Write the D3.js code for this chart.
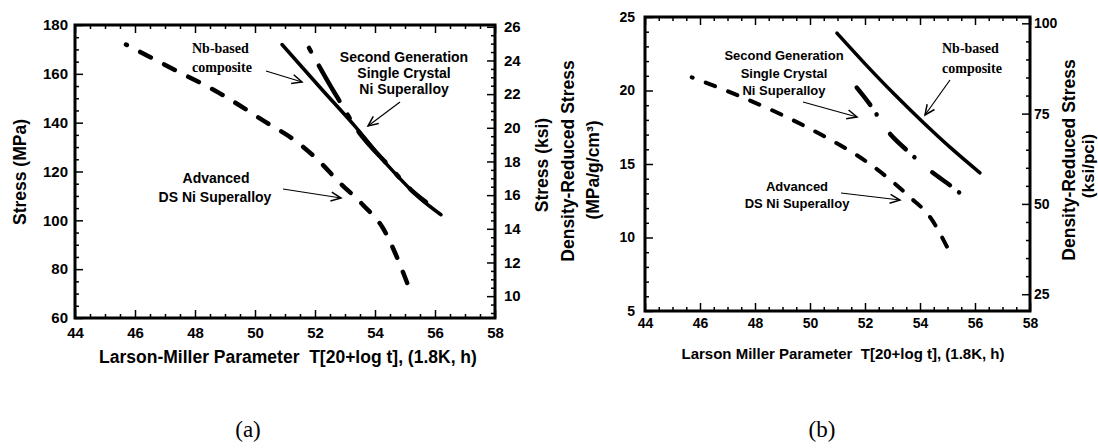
<!DOCTYPE html>
<html><head><meta charset="utf-8">
<script src="https://cdn.jsdelivr.net/npm/d3@7"></script>
<style>
body{margin:0;background:#fff}
svg text{font-family:"Liberation Sans",Arial,Helvetica,sans-serif;font-weight:bold;fill:#000}
</style>
</head><body>
<svg id="chart" width="1098" height="448"></svg>
<script>
// ---------------- data ----------------
const lmpTicks = [44, 46, 48, 50, 52, 54, 56, 58];
const stressTicksMPa = [60, 80, 100, 120, 140, 160, 180];
const stressTicksKsi = [10, 12, 14, 16, 18, 20, 22, 24, 26];
const drTicksMetric = [5, 10, 15, 20, 25];
const drTicksKsiPci = [25, 50, 75, 100];

// panel (a): Larson-Miller parameter vs stress (MPa)
const aDS_lmp     = [45.7, 47.2, 48.8, 50.4, 51.3, 52.1, 52.8, 53.6, 54.3, 54.7, 55.1];
const aDS_stress  = [172, 162.4, 152.2, 139.9, 133, 124.7, 115.7, 106.3, 96.1, 85.8, 73.5];
const aNb_lmp     = [50.9, 52.2, 53.3, 54.5, 55.5, 56.2];
const aNb_stress  = [172, 154, 139, 121.5, 109, 102.3];
const aSC_lmp     = [51.8, 52.5, 52.9, 53.3, 54.5, 55.2, 55.7];
const aSC_stress  = [170.6, 155.4, 147.2, 139, 121.8, 112.5, 107.5];

// panel (b): Larson-Miller parameter vs density-reduced stress (MPa/g/cm3)
const bDS_lmp     = [45.7, 47.2, 48.8, 50.4, 52.1, 53.6, 54.4, 55.0];
const bDS_dr      = [20.9, 19.8, 18.5, 17.0, 15.1, 12.8, 11.3, 9.3];
const bNb_lmp     = [50.98, 52.02, 53.06, 54.1, 55.14, 56.18];
const bNb_dr      = [23.9, 21.78, 19.76, 17.86, 16.06, 14.4];
const bSC_lmp     = [51.7, 52.2, 52.8, 53.6, 54.4, 55.2, 55.6];
const bSC_dr      = [20.2, 19.0, 17.3, 15.8, 14.5, 13.4, 12.8];

const MPA_PER_KSI = 6.895;
const KSIPCI_PER_METRIC = 4.07;

// ---------------- drawing ----------------
const svg = d3.select("#chart");
svg.append("rect").attr("width", 1098).attr("height", 448).attr("fill", "#fff");

const defs = svg.append("defs");
defs.append("marker").attr("id", "arr").attr("markerUnits", "userSpaceOnUse")
  .attr("viewBox", "-12 -7 14 14").attr("markerWidth", 14).attr("markerHeight", 14)
  .attr("refX", 0).attr("refY", 0).attr("orient", "auto")
  .append("path").attr("d", "M-10,-4.5 L0,0 L-10,4.5")
  .attr("fill", "none").attr("stroke", "#000").attr("stroke-width", 1.5);

function zip(a, b) { return a.map((v, i) => [v, b[i]]); }

function styleAxis(sel, fs) {
  sel.select(".domain").remove();
  sel.selectAll(".tick line").attr("stroke", "#000").attr("stroke-width", 1.5);
  sel.selectAll("text").attr("font-size", fs).attr("font-family", null);
  sel.attr("font-family", null).attr("font-size", null);
}

function panel(cfg) {
  const g = svg.append("g");
  const x = d3.scaleLinear().domain([44, 58]).range([cfg.x0, cfg.x1]);
  const y = d3.scaleLinear().domain(cfg.yDomain).range([cfg.y0, cfg.y1]);
  const yR = d3.scaleLinear().domain(cfg.yDomain.map(cfg.conv)).range([cfg.y0, cfg.y1]);

  const minorX = d3.range(44, 58.001, 0.5).filter(v => lmpTicks.indexOf(v) < 0);
  g.append("g").attr("transform", `translate(0,${cfg.y0})`)
    .call(d3.axisBottom(x).tickValues(lmpTicks).tickSizeInner(-8).tickSizeOuter(0).tickPadding(cfg.xPad))
    .call(s => styleAxis(s, cfg.tickFs));
  g.append("g").attr("transform", `translate(0,${cfg.y0})`)
    .call(d3.axisBottom(x).tickValues(minorX).tickSizeInner(-4).tickSizeOuter(0).tickFormat(""))
    .call(s => styleAxis(s, cfg.tickFs));
  g.append("g").attr("transform", `translate(0,${cfg.y1})`)
    .call(d3.axisTop(x).tickValues(lmpTicks).tickSizeInner(-8).tickSizeOuter(0).tickFormat(""))
    .call(s => styleAxis(s, cfg.tickFs));
  g.append("g").attr("transform", `translate(0,${cfg.y1})`)
    .call(d3.axisTop(x).tickValues(minorX).tickSizeInner(-4).tickSizeOuter(0).tickFormat(""))
    .call(s => styleAxis(s, cfg.tickFs));
  g.append("g").attr("transform", `translate(${cfg.x0},0)`)
    .call(d3.axisLeft(y).tickValues(cfg.yTicks).tickSizeInner(-8).tickSizeOuter(0).tickPadding(cfg.yPad))
    .call(s => styleAxis(s, cfg.tickFs));
  g.append("g").attr("transform", `translate(${cfg.x0},0)`)
    .call(d3.axisLeft(y).tickValues(cfg.yMinor).tickSizeInner(-4).tickSizeOuter(0).tickFormat(""))
    .call(s => styleAxis(s, cfg.tickFs));
  g.append("g").attr("transform", `translate(${cfg.x1},0)`)
    .call(d3.axisRight(yR).tickValues(cfg.rTicks).tickSizeInner(-8).tickSizeOuter(0).tickPadding(cfg.rPad))
    .call(s => styleAxis(s, cfg.tickFs));
  g.append("g").attr("transform", `translate(${cfg.x1},0)`)
    .call(d3.axisRight(yR).tickValues(cfg.rMinor).tickSizeInner(-4).tickSizeOuter(0).tickFormat(""))
    .call(s => styleAxis(s, cfg.tickFs));

  g.append("rect").attr("x", cfg.x0).attr("y", cfg.y1)
    .attr("width", cfg.x1 - cfg.x0).attr("height", cfg.y0 - cfg.y1)
    .attr("fill", "none").attr("stroke", "#000").attr("stroke-width", 3);

  const line = d3.line().x(d => x(d[0])).y(d => y(d[1])).curve(d3.curveMonotoneX);
  cfg.series.forEach(s => {
    g.append("path").attr("d", line(s.data)).attr("fill", "none")
      .attr("stroke", "#000").attr("stroke-width", s.w)
      .attr("stroke-linecap", "round")
      .attr("stroke-dasharray", s.dash || null)
      .attr("stroke-dashoffset", s.offset || 0);
  });
  return g;
}

function txt(x, y, s, fs, opts = {}) {
  const t = svg.append("text").attr("x", x).attr("y", y).text(s)
    .attr("font-size", fs).attr("text-anchor", opts.anchor || "middle")
    .attr("dominant-baseline", "central");
  if (opts.rot) t.attr("transform", `rotate(-90,${x},${y})`);
  if (opts.serif) t.style("font-family", '"Liberation Serif","Times New Roman",serif').attr("fill", opts.color || "#000");
  if (opts.normal) t.style("font-weight", "normal");
  if (opts.pre) t.style("white-space", "pre");
  return t;
}
function arrow(x1, y1, x2, y2) {
  svg.append("line").attr("x1", x1).attr("y1", y1).attr("x2", x2).attr("y2", y2)
    .attr("stroke", "#000").attr("stroke-width", 1.2).attr("marker-end", "url(#arr)");
}

// panel (a)
panel({
  x0: 75, x1: 495, y0: 318, y1: 25,
  yDomain: [60, 180], conv: v => v / MPA_PER_KSI,
  yTicks: stressTicksMPa, yMinor: d3.range(60, 180, 5).filter(v => v % 20 !== 0),
  rTicks: stressTicksKsi, rMinor: d3.range(9, 26.01, 0.5).filter(v => v % 2 !== 0),
  tickFs: 15, xPad: 9, yPad: 7, rPad: 9,
  series: [
    { data: zip(aDS_lmp, aDS_stress), w: 4.5, dash: "12,15", offset: 11 },
    { data: zip(aNb_lmp, aNb_stress), w: 3.5 },
    { data: zip(aSC_lmp, aSC_stress), w: 4.5, dash: "4,16,41,16" }
  ]
});

// panel (b)
panel({
  x0: 645, x1: 1030, y0: 311, y1: 17,
  yDomain: [5, 25], conv: v => v * KSIPCI_PER_METRIC,
  yTicks: drTicksMetric, yMinor: d3.range(6, 25, 1).filter(v => v % 5 !== 0),
  rTicks: drTicksKsiPci, rMinor: d3.range(25, 101, 5).filter(v => v % 25 !== 0),
  tickFs: 14, xPad: 7, yPad: 10, rPad: 4,
  series: [
    { data: zip(bDS_lmp, bDS_dr), w: 4, dash: "10,14", offset: 9 },
    { data: zip(bNb_lmp, bNb_dr), w: 3.5 },
    { data: zip(bSC_lmp, bSC_dr), w: 4.5, dash: "22,11.5,0.1,23.5" }
  ]
});

// axis titles (a)
txt(20, 172, "Stress (MPa)", 17.5, { rot: true });
txt(542, 165, "Stress (ksi)", 17.5, { rot: true });
txt(288, 357, "Larson-Miller Parameter  T[20+log t], (1.8K, h)", 17.5, { pre: true });

// axis titles (b)
txt(568, 161, "Density-Reduced Stress", 17.5, { rot: true });
txt(593, 170, "(MPa/g/cm³)", 17.5, { rot: true });
txt(1069, 160, "Density-Reduced Stress", 17.5, { rot: true });
txt(1088, 166, "(ksi/pci)", 17, { rot: true });
txt(843, 353, "Larson Miller Parameter  T[20+log t], (1.8K, h)", 15, { pre: true });

// annotations (a)
const navy = "#1c2452";
txt(192, 48, "Nb-based", 14, { anchor: "start", serif: true, color: navy });
txt(192, 67, "composite", 14, { anchor: "start", serif: true, color: navy });
arrow(266, 71, 302, 82);
txt(404, 57, "Second Generation", 14);
txt(404, 73, "Single Crystal", 14);
txt(404, 89, "Ni Superalloy", 14);
arrow(400, 102, 368, 126);
txt(216, 178, "Advanced", 14);
txt(215, 197, "DS Ni Superalloy", 14);
arrow(283, 189, 341, 198);

// annotations (b)
txt(784, 55, "Second Generation", 13);
txt(784, 73, "Single Crystal", 13);
txt(784, 90, "Ni Superalloy", 13);
arrow(803, 102, 857, 117);
txt(797, 186, "Advanced", 13);
txt(797, 203, "DS Ni Superalloy", 13);
arrow(841, 193, 900, 200);
txt(942, 48, "Nb-based", 14, { anchor: "start", serif: true, color: navy });
txt(942, 68, "composite", 14, { anchor: "start", serif: true, color: navy });
arrow(950, 80, 925, 115);

// panel captions
txt(248, 429, "(a)", 23, { serif: true, normal: true });
txt(822, 429, "(b)", 23, { serif: true, normal: true });
</script>
</body></html>
